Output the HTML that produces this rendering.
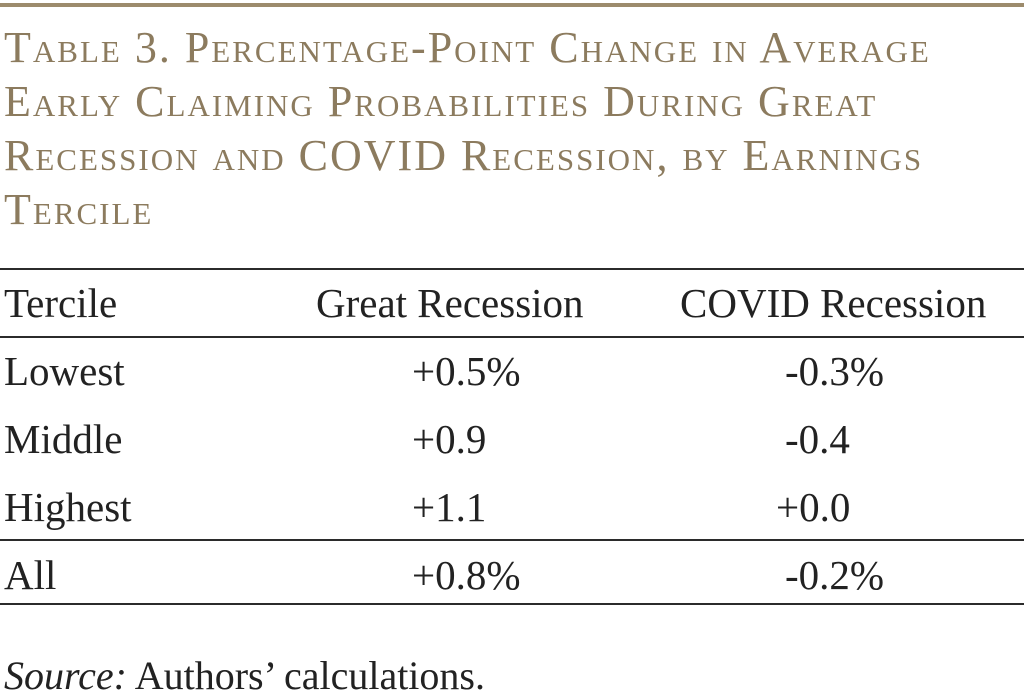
<!DOCTYPE html>
<html><head><meta charset="utf-8"><style>
body{margin:0;width:1024px;height:693px;background:#fff;position:relative;overflow:hidden;font-family:"Liberation Serif",serif}
.a{position:absolute;white-space:nowrap}
.title{color:#8c7b5e;font-size:44px;font-variant:small-caps;line-height:54px;left:4px;top:21px;letter-spacing:2px}
.rule{position:absolute;left:0;width:1024px;background:#2b2b2b;height:2px}
.t{font-size:41px;color:#222;line-height:40px}
</style></head><body>
<div class="a" style="left:0;top:3px;width:1024px;height:4px;background:#9c8b6c"></div>
<div class="a title">Table 3. Percentage-Point Change in Average<br>Early Claiming Probabilities During Great<br>Recession and COVID Recession, by Earnings<br>Tercile</div>
<div class="rule" style="top:268px"></div>
<div class="rule" style="top:336px"></div>
<div class="rule" style="top:539px"></div>
<div class="rule" style="top:603px"></div>
<div class="a t" style="left:4px;top:283px">Tercile</div>
<div class="a t" style="left:316px;top:283px">Great Recession</div>
<div class="a t" style="left:680px;top:283px">COVID Recession</div>
<div class="a t" style="left:4px;top:351px">Lowest</div>
<div class="a t" style="left:412px;top:351px">+0.5%</div>
<div class="a t" style="left:785px;top:351px">-0.3%</div>
<div class="a t" style="left:4px;top:419px">Middle</div>
<div class="a t" style="left:412px;top:419px">+0.9</div>
<div class="a t" style="left:785px;top:419px">-0.4</div>
<div class="a t" style="left:4px;top:487px">Highest</div>
<div class="a t" style="left:412px;top:487px">+1.1</div>
<div class="a t" style="left:776px;top:487px">+0.0</div>
<div class="a t" style="left:4px;top:555px">All</div>
<div class="a t" style="left:412px;top:555px">+0.8%</div>
<div class="a t" style="left:785px;top:555px">-0.2%</div>
<div class="a t" style="left:4px;top:656px;font-size:40px"><i>Source:</i> Authors’ calculations.</div>
</body></html>
